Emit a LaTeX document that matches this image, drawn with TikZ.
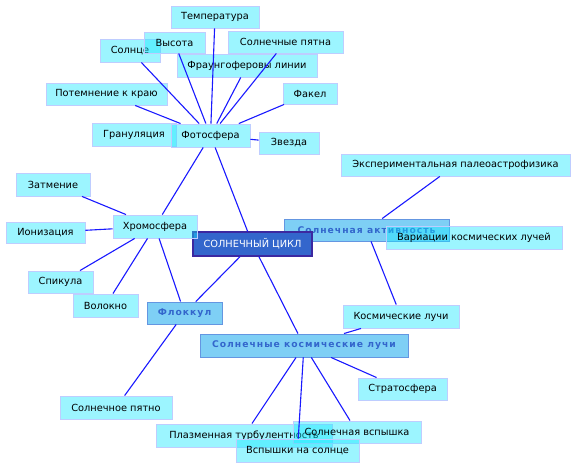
\documentclass[tikz,border=0pt]{standalone}
\usepackage{fontspec}
\setmainfont{DejaVu Sans}
\newfontfamily\catfont[LetterSpace=11]{DejaVu Sans Bold}
\definecolor{leaffill}{RGB}{20,232,255}
\definecolor{leafdraw}{RGB}{190,205,255}
\definecolor{catfill}{RGB}{120,205,245}
\definecolor{catdraw}{RGB}{100,150,225}
\definecolor{cattext}{RGB}{51,102,204}
\definecolor{corefill}{RGB}{51,102,204}
\definecolor{coredraw}{RGB}{60,40,160}
\definecolor{edgecol}{RGB}{25,25,255}
\tikzset{
  leaf/.style={draw=leafdraw, line width=0.9pt, fill=leaffill, fill opacity=0.42, text opacity=1, inner sep=0pt, font=\fontsize{9.8}{11}\selectfont, text=black},
  cat/.style={draw=catdraw, line width=0.9pt, fill=catfill, fill opacity=0.95, text opacity=1, inner sep=0pt, font=\catfont\fontsize{9.2}{11}\selectfont, text=cattext},
  core/.style={draw=coredraw, line width=1.2pt, fill=corefill, inner sep=0pt, font=\fontsize{9.8}{11}\selectfont, text=white},
  edge/.style={draw=edgecol, line width=1.1pt}
}
\begin{document}
\begin{tikzpicture}[x=1pt,y=-1pt]
\fill[white] (0,0) rectangle (576,468);
\useasboundingbox (0,0) rectangle (576,468);
% category nodes
\node[cat, minimum width=165pt, minimum height=22pt] (sa) at (366.5,230) {Солнечная активность};
\node[cat, minimum width=208pt, minimum height=23pt] (skl) at (304,345.5) {Солнечные космические лучи};
\node[cat, minimum width=75pt, minimum height=22pt] (flok) at (184.5,313) {Флоккул};
\node[core, minimum width=119pt, minimum height=24pt] (cycle) at (252.5,244) {СОЛНЕЧНЫЙ ЦИКЛ};
% leaves
\node[leaf, minimum width=88pt, minimum height=22pt] (temp) at (215,17) {Температура};
\node[leaf, minimum width=60pt, minimum height=23pt] (sun) at (130,50.5) {Солнце};
\node[leaf, minimum width=61pt, minimum height=21pt] (vys) at (174.5,42.5) {Высота};
\node[leaf, minimum width=115pt, minimum height=22pt] (spots) at (285.5,42) {Солнечные пятна};
\node[leaf, minimum width=140pt, minimum height=23pt] (fraun) at (247,65.5) {Фраунгоферовы линии};
\node[leaf, minimum width=121pt, minimum height=22pt] (limb) at (106.5,94) {Потемнение к краю};
\node[leaf, minimum width=54pt, minimum height=21pt] (fakel) at (310,93.5) {Факел};
\node[leaf, minimum width=84pt, minimum height=23pt] (gran) at (134,134.5) {Грануляция};
\node[leaf, minimum width=79pt, minimum height=23pt] (photo) at (210.5,135.5) {Фотосфера};
\node[leaf, minimum width=60pt, minimum height=22pt] (star) at (289,143) {Звезда};
\node[leaf, minimum width=74pt, minimum height=23pt] (ecl) at (53,184.5) {Затмение};
\node[leaf, minimum width=79pt, minimum height=21pt] (ion) at (45.5,232.5) {Ионизация};
\node[leaf, minimum width=84pt, minimum height=23pt] (chromo) at (155,226.5) {Хромосфера};
\node[leaf, minimum width=65pt, minimum height=22pt] (spic) at (60.5,282) {Спикула};
\node[leaf, minimum width=65pt, minimum height=23pt] (fil) at (105.5,305.5) {Волокно};
\node[leaf, minimum width=229pt, minimum height=22pt] (paleo) at (455.5,165) {Экспериментальная палеоастрофизика};
\node[leaf, minimum width=176pt, minimum height=23pt] (var) at (474,237.5) {Вариации космических лучей};
\node[leaf, minimum width=116pt, minimum height=23pt] (kl) at (401,316.5) {Космические лучи};
\node[leaf, minimum width=89pt, minimum height=22pt] (strat) at (402.5,389) {Стратосфера};
\node[leaf, minimum width=112pt, minimum height=23pt] (spot) at (116,407.5) {Солнечное пятно};
\node[leaf, minimum width=176pt, minimum height=23pt] (plasma) at (244,435.5) {Плазменная турбулентность};
\node[leaf, minimum width=128pt, minimum height=22pt] (flare) at (357,432) {Солнечная вспышка};
\node[leaf, minimum width=123pt, minimum height=23pt] (vsp) at (297.5,450.5) {Вспышки на солнце};
% connectors
\draw[edge] (cycle) -- (photo);
\draw[edge] (cycle) -- (flok);
\draw[edge] (cycle) -- (skl);
\draw[edge] (photo) -- (temp);
\draw[edge] (photo) -- (vys);
\draw[edge] (photo) -- (sun);
\draw[edge] (photo) -- (spots);
\draw[edge] (photo) -- (fraun);
\draw[edge] (photo) -- (limb);
\draw[edge] (photo) -- (fakel);
\draw[edge] (photo) -- (star);
\draw[edge] (photo) -- (chromo);
\draw[edge] (chromo) -- (ecl);
\draw[edge] (chromo) -- (ion);
\draw[edge] (chromo) -- (spic);
\draw[edge] (chromo) -- (fil);
\draw[edge] (chromo) -- (flok);
\draw[edge] (flok) -- (spot);
\draw[edge] (sa) -- (paleo);
\draw[edge] (sa) -- (kl);
\draw[edge] (skl) -- (kl);
\draw[edge] (skl) -- (strat);
\draw[edge] (skl) -- (plasma);
\draw[edge] (skl) -- (flare);
\draw[edge] (skl) -- (vsp);
\end{tikzpicture}
\end{document}
